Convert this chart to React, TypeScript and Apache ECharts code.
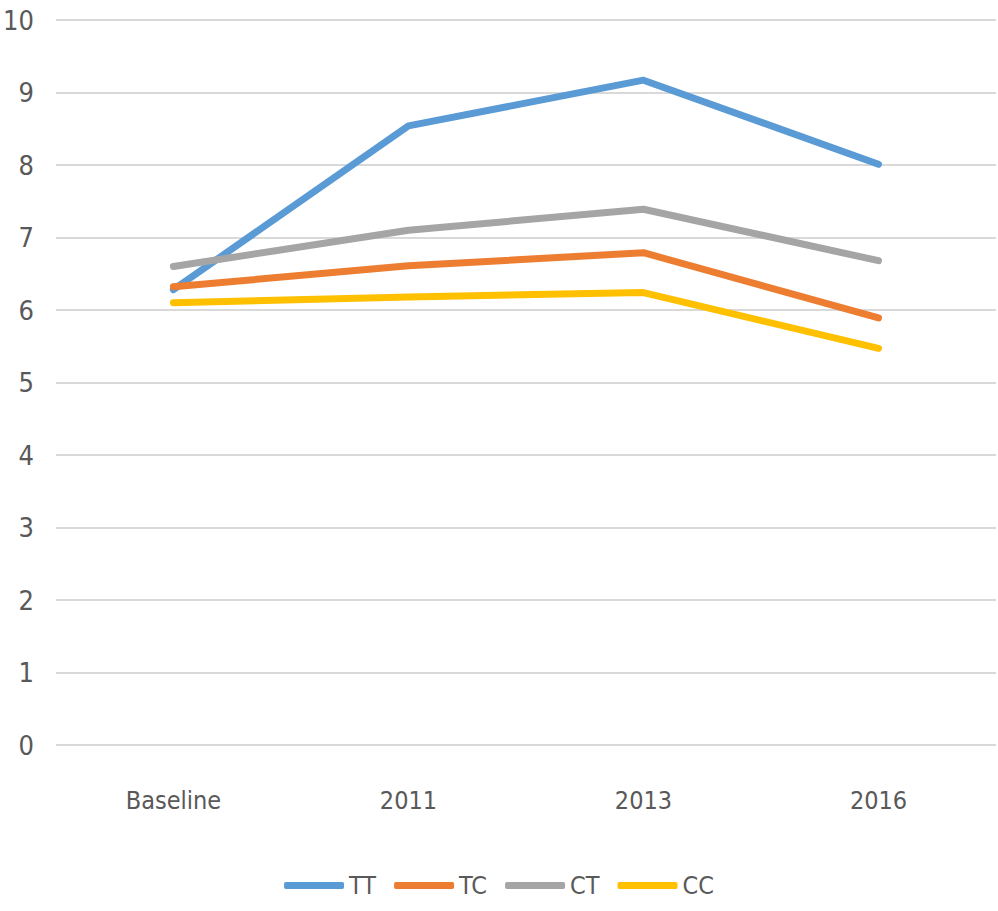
import React, { useEffect, useRef } from "react";
import * as echarts from "echarts";

const categories = ["Baseline", "2011", "2013", "2016"];
const seriesNames = ["TT", "TC", "CT", "CC"];
const ttValues = [6.28, 8.54, 9.17, 8.01];
const tcValues = [6.32, 6.61, 6.79, 5.89];
const ctValues = [6.6, 7.1, 7.39, 6.68];
const ccValues = [6.1, 6.18, 6.24, 5.47];
const colors = ["#5B9BD5", "#ED7D31", "#A5A5A5", "#FFC000"];

const FONT = "'DejaVu Sans Condensed', 'Liberation Sans Narrow', sans-serif";

export default function App() {
  const ref = useRef<HTMLDivElement>(null);
  useEffect(() => {
    if (!ref.current) return;
    const chart = echarts.init(ref.current, undefined, { renderer: "svg" });
    const allValues = [ttValues, tcValues, ctValues, ccValues];
    chart.setOption({
      animation: false,
      backgroundColor: "#ffffff",
      color: colors,
      grid: { left: 55, right: 2, top: 20, bottom: 166, containLabel: false },
      legend: {
        bottom: 8,
        left: "center",
        icon: "roundRect",
        itemWidth: 60,
        itemHeight: 7,
        itemGap: 18,
        textStyle: { fontFamily: FONT, fontSize: 25, color: "#595959" },
        data: seriesNames,
      },
      xAxis: {
        type: "category",
        data: categories,
        boundaryGap: true,
        axisLine: { show: false },
        axisTick: { show: false },
        axisLabel: { fontFamily: FONT, fontSize: 25, color: "#595959", margin: 43 },
      },
      yAxis: {
        type: "value",
        min: 0,
        max: 10,
        interval: 1,
        axisLine: { show: false },
        axisTick: { show: false },
        splitLine: { lineStyle: { color: "#D9D9D9", width: 2 } },
        axisLabel: { fontFamily: FONT, fontSize: 27, color: "#595959", margin: 22 },
      },
      series: seriesNames.map((name, i) => ({
        name,
        type: "line",
        data: allValues[i],
        symbol: "none",
        lineStyle: { width: 7, color: colors[i], cap: "round", join: "round" },
        itemStyle: { color: colors[i] },
      })),
    });
    return () => chart.dispose();
  }, []);
  return <div ref={ref} style={{ width: 998, height: 911, position: "absolute", left: 0, top: 0 }} />;
}
